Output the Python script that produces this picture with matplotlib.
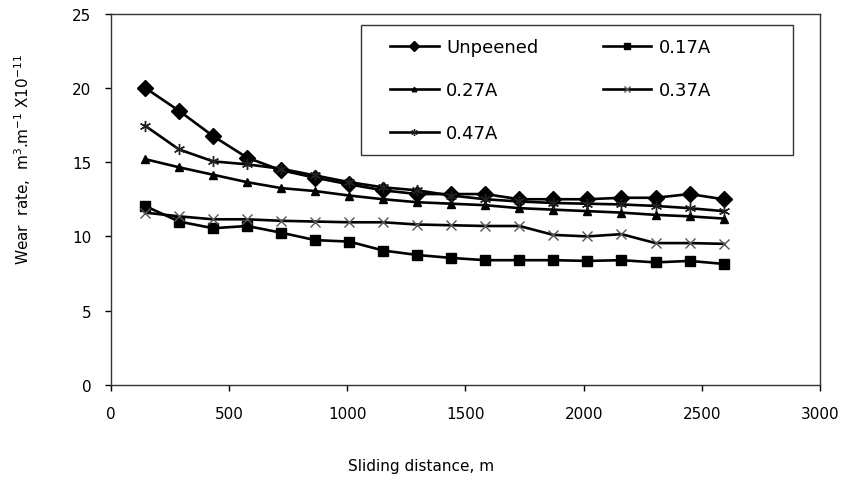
import matplotlib
matplotlib.use("Agg")
import matplotlib.pyplot as plt
from matplotlib.patches import Rectangle

plt.rcParams['font.family'] = ['DejaVu Sans']

distance = [144, 288, 432, 576, 720, 864, 1008, 1152, 1296, 1440,
            1584, 1728, 1872, 2016, 2160, 2304, 2448, 2592]

unpeened = [20.0, 18.45, 16.75, 15.3, 14.45, 13.95, 13.5, 13.1, 12.85, 12.85,
            12.85, 12.5, 12.5, 12.5, 12.6, 12.6, 12.85, 12.5]
a017 = [12.05, 11.0, 10.55, 10.7, 10.25, 9.75, 9.65, 9.05, 8.75, 8.55,
        8.4, 8.4, 8.4, 8.35, 8.4, 8.25, 8.35, 8.15]
a027 = [15.2, 14.65, 14.15, 13.65, 13.25, 13.05, 12.75, 12.5, 12.3, 12.2,
        12.1, 11.9, 11.8, 11.7, 11.6, 11.45, 11.35, 11.2]
a037 = [11.6, 11.35, 11.15, 11.15, 11.05, 11.0, 10.95, 10.95, 10.8, 10.75,
        10.7, 10.7, 10.1, 10.0, 10.15, 9.55, 9.55, 9.5]
a047 = [17.45, 15.85, 15.05, 14.85, 14.55, 14.1, 13.65, 13.3, 13.1, 12.75,
        12.5, 12.35, 12.25, 12.2, 12.15, 12.05, 11.9, 11.7]

series_labels = ['Unpeened', '0.17A', '0.27A', '0.37A', '0.47A']
x_ticks = [0, 500, 1000, 1500, 2000, 2500, 3000]
y_ticks = [0, 5, 10, 15, 20, 25]

W, H = 842, 481
fig = plt.figure(figsize=(W / 100, H / 100), dpi=100)
L, R, T, B = 111, 820, 14.5, 386
ax = fig.add_axes([L / W, 1 - B / H, (R - L) / W, (B - T) / H])

lw = 1.9
styles = [
    dict(marker='D', ms=8, mfc='black', mec='black'),
    dict(marker='s', ms=6.5, mfc='black', mec='black'),
    dict(marker='^', ms=5.5, mfc='black', mec='black'),
    dict(marker='x', ms=7, mec='#555555', mew=1.0),
    dict(marker=(6, 2, 0), ms=8, mec='#222222', mew=1.0),
]
data = [unpeened, a017, a027, a037, a047]
handles = []
for vals, lab, st in zip(data, series_labels, styles):
    h, = ax.plot(distance, vals, color='black', lw=lw, label=lab, **st)
    handles.append(h)

ax.set_xlim(0, 3000)
ax.set_ylim(0, 25)
ax.set_xticks(x_ticks)
ax.set_yticks(y_ticks)
ax.tick_params(direction='out', length=4, width=1, labelsize=11)
ax.tick_params(axis='y', pad=10)
ax.tick_params(axis='x', pad=11)
for s in ax.spines.values():
    s.set_linewidth(1.0)
    s.set_color('#333333')

fig.text(421 / W, 1 - 466 / H, 'Sliding distance, m', ha='center', va='center', fontsize=11)
fig.text(23 / W, 1 - 160 / H, r'Wear  rate,  m$^{3}$.m$^{-1}$ X10$^{-11}$',
         ha='center', va='center', rotation=90, fontsize=11)

# legend box
fig.patches.append(Rectangle((361 / W, 1 - 156 / H), (793 - 361) / W, (156 - 26) / H,
                             transform=fig.transFigure, fill=False, ec='#333333', lw=1.0))
order = [0, 2, 4, 1, 3]
leg = fig.legend([handles[i] for i in order], [series_labels[i] for i in order],
                 ncol=2, loc='upper left', bbox_to_anchor=(390 / W, 1 - 39 / H),
                 frameon=False, fontsize=13, markerscale=0.6,
                 handlelength=2.7, handletextpad=0.42, columnspacing=3.55,
                 labelspacing=1.38, borderpad=0, borderaxespad=0)

fig.savefig('out.png', dpi=100)
